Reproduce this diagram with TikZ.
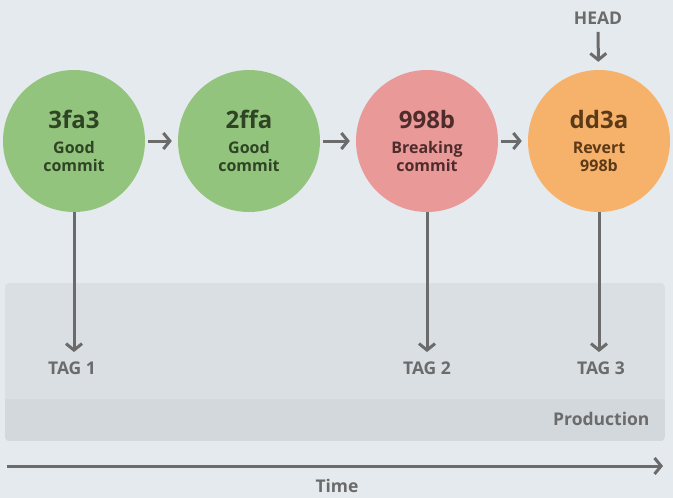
\documentclass[tikz,border=0pt]{standalone}
\usepackage{fontspec}
\setmainfont{Open Sans}
\usepackage{tikz}
\usetikzlibrary{arrows.meta, positioning}
\definecolor{BgGray}{HTML}{E4EAED}
\definecolor{BandGray}{HTML}{D9DFE2}
\definecolor{StripGray}{HTML}{D2D8DB}
\definecolor{LineGray}{HTML}{6B6B6B}
\definecolor{GoodFill}{HTML}{93C47D}
\definecolor{GoodText}{HTML}{2E4424}
\definecolor{BadFill}{HTML}{EA9999}
\definecolor{BadText}{HTML}{4E2C2C}
\definecolor{RevFill}{HTML}{F6B26B}
\definecolor{RevText}{HTML}{5C3A18}
\newcommand{\hash}[1]{{\fontsize{24}{26}\selectfont #1}\\[7pt]}

\begin{document}
\begin{tikzpicture}[x=1pt, y=-1pt,
  commit/.style={circle, minimum size=142pt, inner sep=0pt, align=center,
    font=\fontsize{16}{18}\selectfont\bfseries},
  good/.style={commit, fill=GoodFill, text=GoodText},
  bad/.style={commit, fill=BadFill, text=BadText},
  rev/.style={commit, fill=RevFill, text=RevText},
  label/.style={text=LineGray, font=\fontsize{17.5}{20}\selectfont\bfseries},
  line/.style={line width=3pt, color=LineGray, -{Straight Barb[length=6.5pt, width=16pt]}}
]
\fill[BgGray] (0,0) rectangle (673,498);
\useasboundingbox (0,0) rectangle (673,498);

% production band
\begin{scope}
  \clip[rounded corners=4pt] (5,283) rectangle (665,441);
  \fill[BandGray] (5,283) rectangle (665,441);
  \fill[StripGray] (5,399) rectangle (665,441);
\end{scope}
\node[label, anchor=east] (prod) at (653,419) {Production};

% commits
\node[good] (c1) at (74,141)  {\hash{3fa3}Good\\commit};
\node[good] (c2) at (249,141) {\hash{2ffa}Good\\commit};
\node[bad]  (c3) at (427,141) {\hash{998b}Breaking\\commit};
\node[rev]  (c4) at (599,141) {\hash{dd3a}Revert\\998b};

\node[label] (head) at (598,18) {HEAD};

\node[label] (tag1) at (72,368)  {TAG 1};
\node[label] (tag2) at (427,368) {TAG 2};
\node[label] (tag3) at (601,368) {TAG 3};

\draw[line, shorten <=3pt, shorten >=6pt] (c1) -- (c2);
\draw[line, shorten <=3pt, shorten >=6pt] (c2) -- (c3);
\draw[line, shorten <=3pt, shorten >=6pt] (c3) -- (c4);
\draw[line, shorten <=4pt, shorten >=8pt] (head) -- (c4);

\draw[line, shorten >=6pt] (c1.south) -- (c1.south |- tag1.north);
\draw[line, shorten >=6pt] (c3.south) -- (c3.south |- tag2.north);
\draw[line, shorten >=6pt] (c4.south) -- (c4.south |- tag3.north);

% time axis
\coordinate (t0) at (7,466);
\coordinate (t1) at (663,466);
\draw[line] (t0) -- (t1);
\node[label] (time) at (337,486) {Time};
\end{tikzpicture}
\end{document}
